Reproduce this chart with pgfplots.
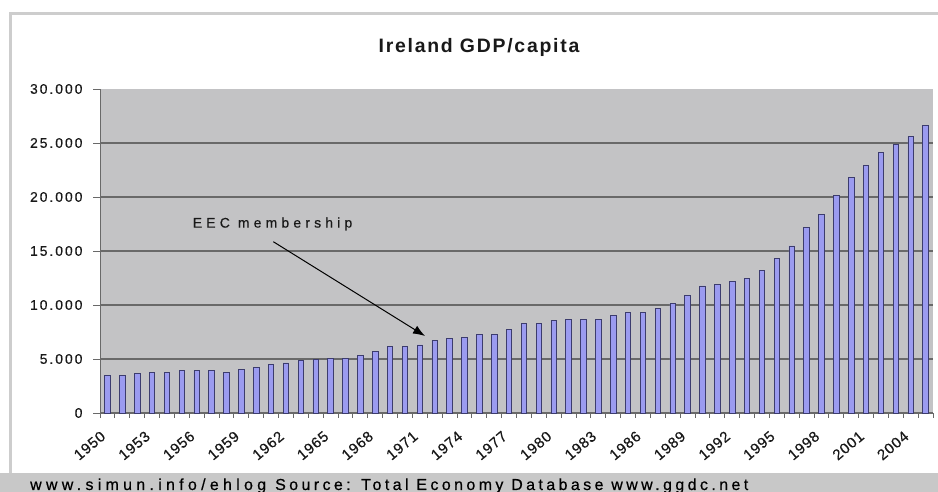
\documentclass[border=0pt]{standalone}
\usepackage{pgfplots}
\usepackage{pgfplotstable}
\pgfplotsset{compat=1.18}
\usepackage{fontspec}
\setmainfont{Liberation Sans}
\usetikzlibrary{arrows.meta}
\newfontfamily\titlefont[LetterSpace=9]{Liberation Sans}
\newfontfamily\tickfont[LetterSpace=14,FakeBold=0.4]{Liberation Sans}
\newfontfamily\xtickfont[LetterSpace=5,FakeBold=0.4]{Liberation Sans}
\newfontfamily\notefont[LetterSpace=30,FakeBold=0.4]{Liberation Sans}
\newfontfamily\srcfonta[LetterSpace=27,FakeBold=0.5]{Liberation Sans}
\newfontfamily\srcfontb[LetterSpace=21.5,FakeBold=0.5]{Liberation Sans}
\definecolor{plotbg}{RGB}{195,195,197}
\definecolor{barfill}{RGB}{155,155,240}
\definecolor{baredge}{RGB}{60,60,110}
\definecolor{gridc}{RGB}{105,105,105}
\definecolor{framec}{RGB}{205,205,205}
\definecolor{stripc}{RGB}{200,200,200}

\pgfplotstableread{
year gdp
1950 3480
1951 3470
1952 3630
1953 3770
1954 3770
1955 3940
1956 3930
1957 3910
1958 3790
1959 4070
1960 4230
1961 4490
1962 4630
1963 4840
1964 4930
1965 5090
1966 5090
1967 5340
1968 5700
1969 6120
1970 6150
1971 6300
1972 6720
1973 6870
1974 6990
1975 7300
1976 7300
1977 7730
1978 8300
1979 8300
1980 8580
1981 8700
1982 8700
1983 8700
1984 9000
1985 9270
1986 9280
1987 9700
1988 10150
1989 10860
1990 11760
1991 11910
1992 12190
1993 12460
1994 13170
1995 14340
1996 15470
1997 17220
1998 18375
1999 20160
2000 21780
2001 22940
2002 24125
2003 24840
2004 25590
2005 26590
}\gdpdata

\begin{document}
\begin{tikzpicture}[x=1bp,y=1bp]
\useasboundingbox (0,0) rectangle (938,492);
\fill[white] (0,0) rectangle (938,492);
\fill[stripc] (0,0) rectangle (938,19);
\draw[framec, line width=3bp] (10.5,19) -- (10.5,478.5) -- (940,478.5);
\node[anchor=base, font=\fontsize{19.5}{22}\selectfont\titlefont\bfseries, text=black!90] at (479,439.3) {Ireland GDP/capita};
\node[anchor=base west, inner sep=0pt, font=\fontsize{16}{18}\selectfont\srcfonta, text=black] at (30,2) {www.simun.info/ehlog};
\node[anchor=base west, inner sep=0pt, font=\fontsize{16}{18}\selectfont\srcfontb, text=black] at (275,2) {Source: Total Economy Database www.ggdc.net};
\begin{axis}[
  at={(100bp,79bp)}, anchor=south west,
  scale only axis, width=833bp, height=324bp,
  xmin=1949.5, xmax=2005.5, ymin=0, ymax=30000,
  axis lines=left,
  axis line style={-, draw=gridc, line width=1bp},
  axis background/.style={fill=plotbg},
  ybar, bar width=5.5bp,
  xtick={1949.5,1952.5,...,2003.5},
  xticklabels={1950,1953,1956,1959,1962,1965,1968,1971,1974,1977,1980,1983,1986,1989,1992,1995,1998,2001,2004},
  minor xtick={1949.5,1950.5,...,2005.5},
  major x tick style={draw=none},
  minor x tick style={draw=gridc, line width=0.8bp},
  minor tick length=5bp,
  major tick length=7bp,
  tick align=outside,
  ytick={0,5000,...,25000},
  extra y ticks={30000},
  extra y tick style={grid=none},
  ymajorgrids,
  major grid style={draw=gridc, line width=1.2bp},
  ytick style={draw=gridc, line width=0.8bp},
  scaled y ticks=false,
  /pgf/number format/assume math mode=true,
  yticklabel style={xshift=-7bp, font=\fontsize{14}{16}\selectfont\tickfont, text=black!90, /pgf/number format/.cd, 1000 sep={.}},
  xticklabel shift=7bp,
  xticklabel style={rotate=40, anchor=north east, inner sep=2bp, font=\fontsize{15}{17}\selectfont\xtickfont, text=black!90},
  clip=false,
]
\addplot[fill=barfill, draw=baredge, line width=0.8bp] table[x=year, y=gdp] {\gdpdata};
\node[font=\fontsize{14}{16}\selectfont\notefont, text=black!90] at (axis cs:1961.1,17500) {EEC membership};
\draw[-{Latex[length=12bp,width=9bp]}, line width=1bp, black] (axis cs:1961.15,15861) -- (axis cs:1971.35,7130);
\end{axis}
\end{tikzpicture}
\end{document}
